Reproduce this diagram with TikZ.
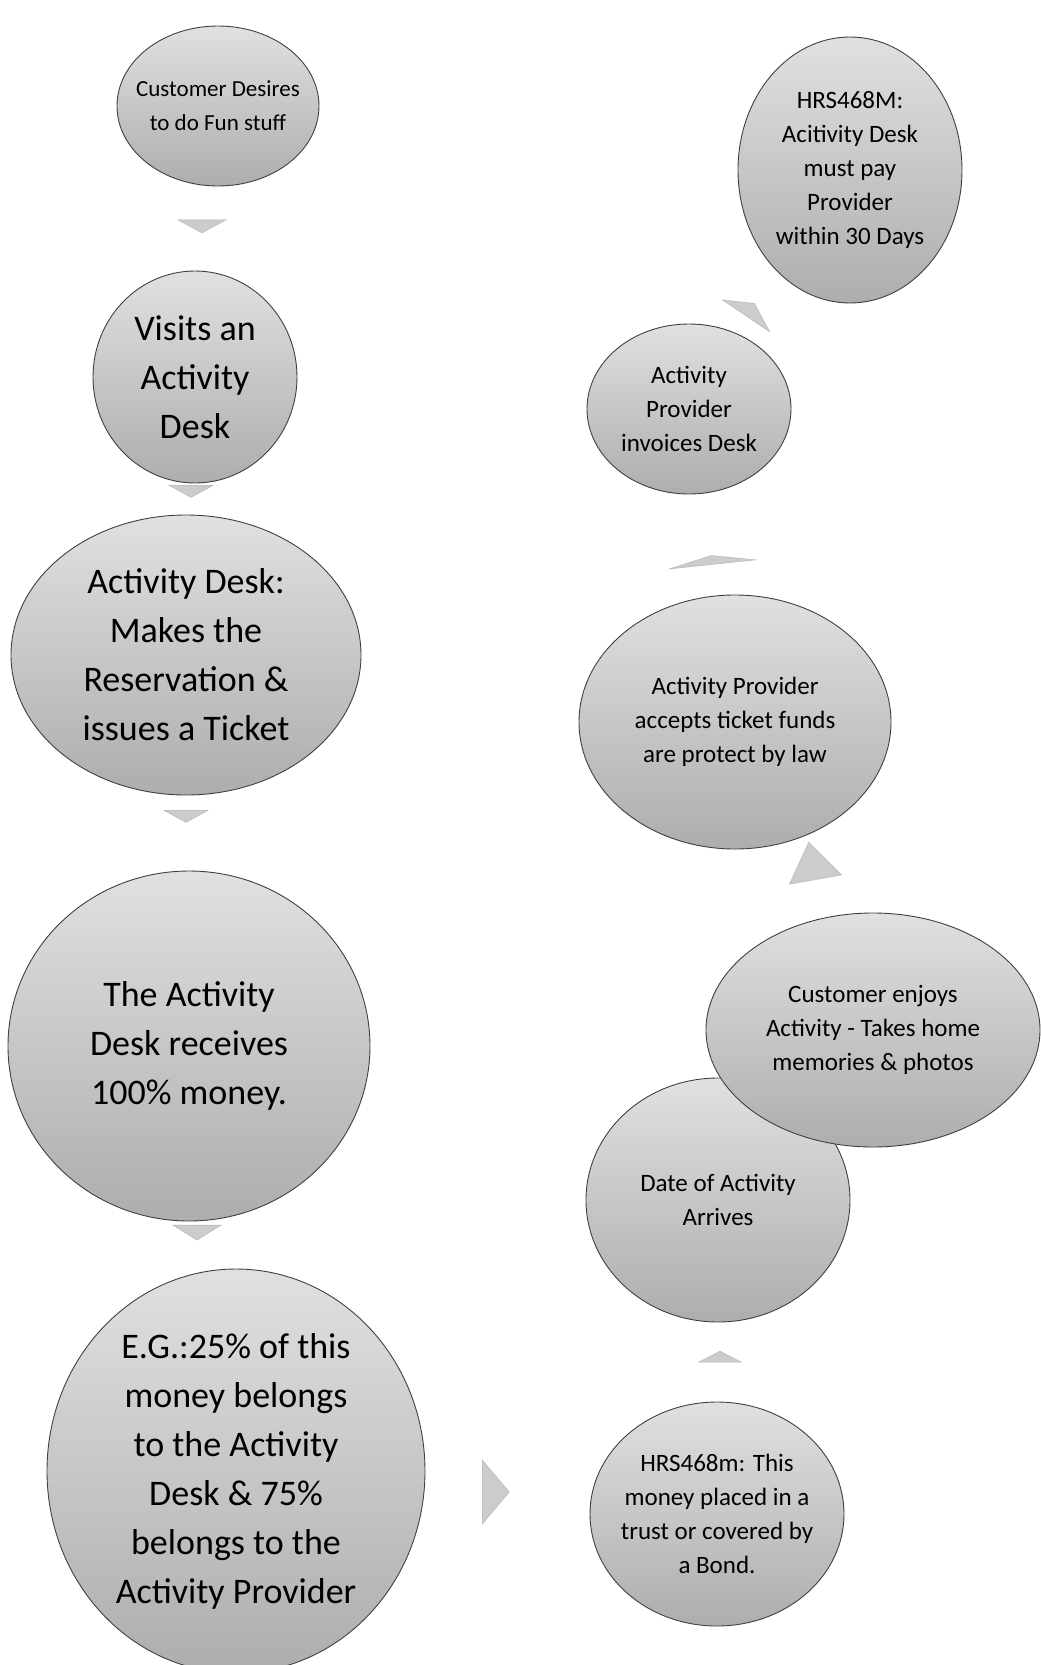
\documentclass[tikz,border=0pt]{standalone}
\usepackage{fontspec}
\setmainfont{Carlito}
\usetikzlibrary{shapes.geometric}
\tikzset{
    % bubbles of the flow
    bubble/.style={ellipse, draw=black!75, line width=0.9pt, top color=black!12, bottom color=black!32, inner sep=-12pt, align=center, font=\fontsize{25}{34}\selectfont},
    bigbubble/.style={bubble, font=\fontsize{36}{49}\selectfont},
    % flat triangle between bubbles
    flowtip/.style={isosceles triangle, isosceles triangle stretches, fill=black!20, draw=black!30, inner sep=0pt}
}

\begin{document}
\begin{tikzpicture}[x=1pt,y=-1pt]
    \useasboundingbox (0,0) rectangle (1041,1665);

    % Left column, going down
    \node[bubble, font=\fontsize{23}{34}\selectfont, minimum width=202, minimum height=160] at (218,106) (desire) {Customer Desires\\to do Fun stuff};
    \node[bigbubble, minimum width=204, minimum height=212] at (195,377) (visit) {Visits an\\Activity\\Desk};
    \node[bigbubble, minimum width=350, minimum height=280] at (186,655) (reserve) {Activity Desk:\\Makes the\\Reservation \&\\issues a Ticket};
    \node[bigbubble, minimum width=362, minimum height=350] at (189,1046) (money) {The Activity\\Desk receives\\100\% money.};
    \node[bigbubble, minimum width=378, minimum height=404] at (236,1471) (split) {E.G.:25\% of this\\money belongs\\to the Activity\\Desk \& 75\%\\belongs to the\\Activity Provider};

    % Right column, going up
    \node[bubble, minimum width=254, minimum height=224] at (717,1514) (trust) {HRS468m: This\\money placed in a\\trust or covered by\\a Bond.};
    \node[bubble, minimum width=264, minimum height=244] at (718,1200) (date) {Date of Activity\\Arrives};
    \node[bubble, minimum width=334, minimum height=234] at (873,1030) (enjoy) {Customer enjoys\\Activity - Takes home\\memories \& photos};
    \node[bubble, minimum width=312, minimum height=254] at (735,722) (accept) {Activity Provider\\accepts ticket funds\\are protect by law};
    \node[bubble, minimum width=204, minimum height=170] at (689,409) (invoice) {Activity\\Provider\\invoices Desk};
    \node[bubble, minimum width=224, minimum height=266] at (850,170) (law) {HRS468M:\\Acitivity Desk\\must pay\\Provider\\within 30 Days};

    % Flow marks
    \node[flowtip, rotate=-90, minimum height=13, minimum width=48] at (202,226) (tip1) {};
    \node[flowtip, rotate=-90, minimum height=12, minimum width=44] at (191,491) (tip2) {};
    \node[flowtip, rotate=-90, minimum height=12, minimum width=44] at (186,816) (tip3) {};
    \node[flowtip, rotate=-90, minimum height=15, minimum width=48] at (197,1232) (tip4) {};
    \node[flowtip, minimum height=27, minimum width=64] at (494,1492) (tip5) {};
    \node[flowtip, rotate=90, minimum height=11, minimum width=43] at (720,1357) (tip6) {};
    \node[flowtip, rotate=100, minimum height=38, minimum width=53] at (813,866) (tip7) {};
    \node[flowtip, rotate=96, minimum height=9, minimum width=87] at (712,560) (tip8) {};
    \node[flowtip, rotate=56, minimum height=15, minimum width=57] at (750,310) (tip9) {};
\end{tikzpicture}
\end{document}
